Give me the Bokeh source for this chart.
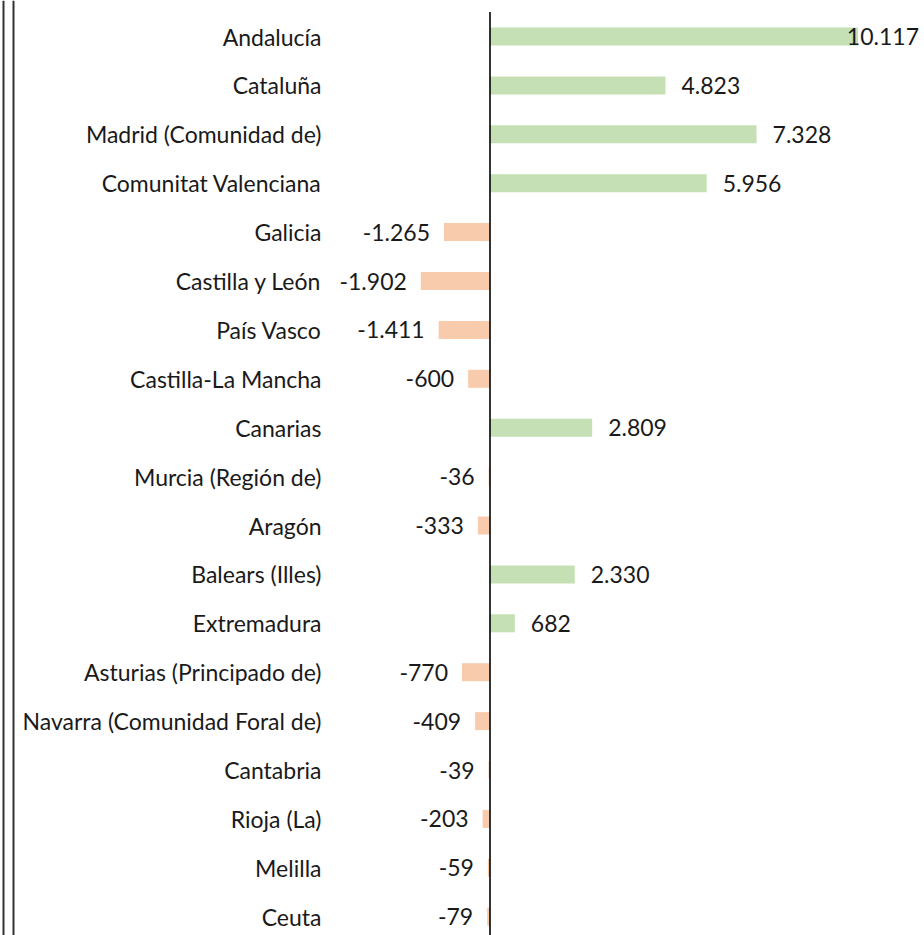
from bokeh.plotting import figure
from bokeh.models import ColumnDataSource, Range1d, Span
from bokeh.embed import file_html
from bokeh.resources import INLINE
from bokeh.core.properties import value

regions = [
    "Andalucía", "Cataluña", "Madrid (Comunidad de)", "Comunitat Valenciana",
    "Galicia", "Castilla y León", "País Vasco", "Castilla-La Mancha",
    "Canarias", "Murcia (Región de)", "Aragón", "Balears (Illes)",
    "Extremadura", "Asturias (Principado de)", "Navarra (Comunidad Foral de)",
    "Cantabria", "Rioja (La)", "Melilla", "Ceuta",
]
values = [10117, 4823, 7328, 5956, -1265, -1902, -1411, -600, 2809, -36,
          -333, 2330, 682, -770, -409, -39, -203, -59, -79]
value_labels = [f"{v:,}".replace(",", ".") for v in values]

POS_COLOR = "#C5E0B4"
NEG_COLOR = "#F8CBAD"
TEXT_COLOR = "#1a1a1a"
FONT = "Lato"
FSIZE = "23px"

W, H = 924, 935
zero_px = 489.5
px_per_unit = 368.0 / 10117
row_px = 48.9
first_row_px = 36.0

n = len(regions)
idx = list(range(n))
vmax = max(values)

# label placement: outside the bar end; the largest one is pulled back so it
# stays inside the chart (right-aligned near the right edge)
aligns, offs = [], []
for v in values:
    if v == vmax:
        aligns.append("right")
        offs.append(61)
    elif v >= 0:
        aligns.append("left")
        offs.append(16)
    else:
        aligns.append("right")
        offs.append(-14)

src = ColumnDataSource(dict(
    y=idx,
    v=values,
    zero=[0] * n,
    cat=regions,
    lab=value_labels,
    color=[POS_COLOR if v >= 0 else NEG_COLOR for v in values],
    align=aligns,
    off=offs,
))

p = figure(
    width=W, height=H,
    x_range=Range1d(-zero_px / px_per_unit, (W - zero_px) / px_per_unit),
    y_range=Range1d((H - first_row_px) / row_px, -first_row_px / row_px),
    output_backend="svg", toolbar_location=None,
    min_border=0, min_border_left=0, min_border_right=0,
    min_border_top=0, min_border_bottom=0,
)
p.xaxis.visible = False
p.yaxis.visible = False
p.grid.visible = False
p.outline_line_color = None
p.background_fill_color = "white"
p.border_fill_color = "white"

p.hbar(y="y", left="zero", right="v", height=18.0 / row_px,
       fill_color="color", line_color=None, source=src)

# zero axis line
p.segment(x0=[0], y0=[-0.5], x1=[0], y1=[n + 1], line_color="black",
          line_width=1.6)

# category labels
p.text(x="zero", y="y", text="cat", source=src, text_align="right",
       text_baseline="middle", x_offset=-168.5,
       text_font=value(FONT), text_font_size=FSIZE, text_color=TEXT_COLOR)

# value labels
p.text(x="v", y="y", text="lab", source=src, text_align="align",
       text_baseline="middle", x_offset="off",
       text_font=value(FONT), text_font_size=FSIZE, text_color=TEXT_COLOR)

# double border lines on the left
for loc in (3.0, 13.0):
    p.add_layout(Span(location=loc, location_units="screen",
                      dimension="height", line_color="#333333",
                      line_width=2))

open("out.html", "w").write(file_html(p, INLINE))
